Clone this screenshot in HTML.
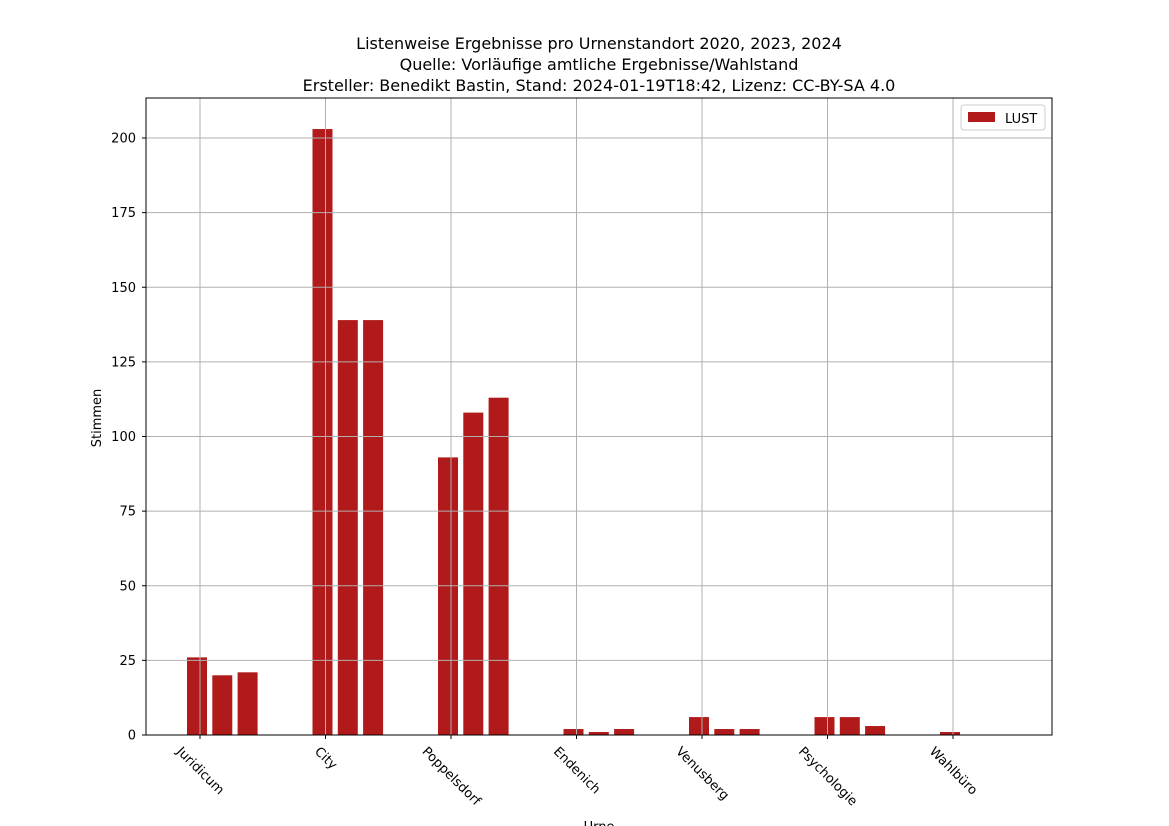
<!DOCTYPE html>
<html><head><meta charset="utf-8"><style>
body{margin:0;background:#fff}
svg{display:block;font-family:"DejaVu Sans","Liberation Sans",sans-serif}
</style></head><body>
<svg id="chart" width="1169" height="826" viewBox="0 0 1169 826">
<rect width="1169" height="826" fill="#fff"/>
<g font-size="16" text-anchor="middle" fill="#000">
<text x="599" y="49">Listenweise Ergebnisse pro Urnenstandort 2020, 2023, 2024</text>
<text x="599" y="70">Quelle: Vorläufige amtliche Ergebnisse/Wahlstand</text>
<text x="599" y="91">Ersteller: Benedikt Bastin, Stand: 2024-01-19T18:42, Lizenz: CC-BY-SA 4.0</text>
</g>
<g id="bars"></g>
<g id="grid"></g>
<g id="axes"></g>
<text x="101" y="418" font-size="13" text-anchor="middle" transform="rotate(-90 101 418)">Stimmen</text>
<text x="599" y="831" font-size="13" text-anchor="middle">Urne</text>
<g>
<rect x="961" y="105" width="84" height="25" rx="3" fill="#fff" stroke="#ccc"/>
<rect x="968" y="112" width="27" height="10" fill="#b11a1a"/>
<text x="1005" y="123" font-size="13">LUST</text>
</g>
</svg>
<script>
const categories=["Juridicum","City","Poppelsdorf","Endenich","Venusberg","Psychologie","Wahlbüro"];
const values2020=[26,203,93,2,6,6,1];
const values2023=[20,139,108,1,2,6,0];
const values2024=[21,139,113,2,2,3,0];
const yTicks=[0,25,50,75,100,125,150,175,200];
const NS="http://www.w3.org/2000/svg";
const L=146,R=1052,T=98,B=735;
const xPos=i=>200+i*125.5;
const yPos=v=>B-v*2.985;
function mk(tag,attrs,parent){const e=document.createElementNS(NS,tag);for(const k in attrs)e.setAttribute(k,attrs[k]);parent.appendChild(e);return e;}
const bars=document.getElementById('bars'),grid=document.getElementById('grid'),axes=document.getElementById('axes');
[values2020,values2023,values2024].forEach((series,j)=>{
  series.forEach((v,i)=>{
    if(v<=0)return;
    const cx=xPos(i)-3+25.3*j;
    const r=mk('rect',{x:cx-10,y:yPos(v),width:20,height:B-yPos(v),fill:'#b11a1a'},bars);
    
    
  });
});
yTicks.forEach(t=>{
  const y=yPos(t);
  const g=mk('line',{x1:L,x2:R,y1:y,y2:y,stroke:'#b0b0b0','stroke-width':1},grid);
  
  
  mk('line',{x1:L-4,x2:L,y1:y,y2:y,stroke:'#000'},axes);
  const tx=mk('text',{x:L-10,y:y+4.5,'font-size':13,'text-anchor':'end'},axes);
  tx.textContent=t;
  
  
});
categories.forEach((c,i)=>{
  const x=xPos(i);
  const g=mk('line',{x1:x,x2:x,y1:T,y2:B,stroke:'#b0b0b0','stroke-width':1},grid);
  
  
  mk('line',{x1:x,x2:x,y1:B,y2:B+4,stroke:'#000'},axes);
  const tx=mk('text',{x:0,y:0,'font-size':13,'text-anchor':'middle','dominant-baseline':'central'},axes);
  tx.textContent=c;
  
  
  const len=tx.getComputedTextLength();
  const h=(len+13)*0.7071;
  tx.setAttribute('transform','translate('+x+','+(745+h/2)+') rotate(45)');
});
const fr=mk('rect',{x:L,y:T,width:R-L,height:B-T,fill:'none',stroke:'#000','stroke-width':1},axes);


</script>
</body></html>
